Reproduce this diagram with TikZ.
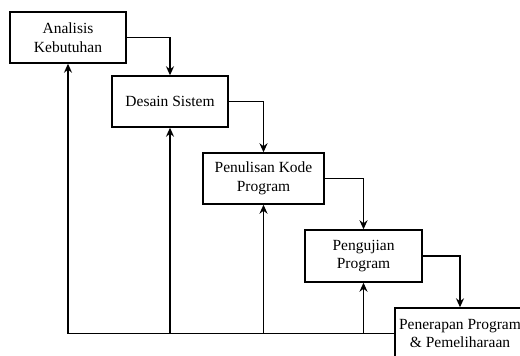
\documentclass[tikz,border=0pt]{standalone}
\usepackage{fontspec}
\setmainfont{Liberation Serif}
\usetikzlibrary{arrows.meta}
\begin{document}
\begin{tikzpicture}[x=1pt,y=-1pt,
  stage/.style={draw,line width=1.4pt,fill=white,rectangle,align=center,inner sep=1pt,
    font=\fontsize{15.5}{18.5}\selectfont},
  flow/.style={line width=1.4pt,-{Stealth[length=9pt,width=8pt]}},
  back/.style={line width=1.4pt}]
\useasboundingbox (0,0) rectangle (520,356);
\node[stage,minimum width=116pt,minimum height=51pt] (b1) at (68,37.5) {Analisis\\Kebutuhan};
\node[stage,minimum width=116pt,minimum height=51pt] (b2) at (170,101.5) {Desain Sistem};
\node[stage,minimum width=121pt,minimum height=51pt] (b3) at (263.5,178.5) {Penulisan Kode\\Program};
\node[stage,minimum width=117pt,minimum height=52pt] (b4) at (363.5,256) {Pengujian\\Program};
\node[stage,minimum width=130pt,minimum height=51pt] (b5) at (460,333.5) {Penerapan Program\\\& Pemeliharaan};
\draw[flow] (b1.east) -| (b2.north);
\draw[flow] (b2.east) -| (b3.north);
\draw[flow] (b3.east) -| (b4.north);
\draw[flow] (b4.east) -| (b5.north);
\coordinate (c1) at (b1.south |- b5.west);
\coordinate (c2) at (b2.south |- b5.west);
\coordinate (c3) at (b3.south |- b5.west);
\coordinate (c4) at (b4.south |- b5.west);
\draw[back] (b5.west) -- (c1);
\draw[flow] (c1) -- (b1.south);
\draw[flow] (c2) -- (b2.south);
\draw[flow] (c3) -- (b3.south);
\draw[flow] (c4) -- (b4.south);
\end{tikzpicture}
\end{document}
